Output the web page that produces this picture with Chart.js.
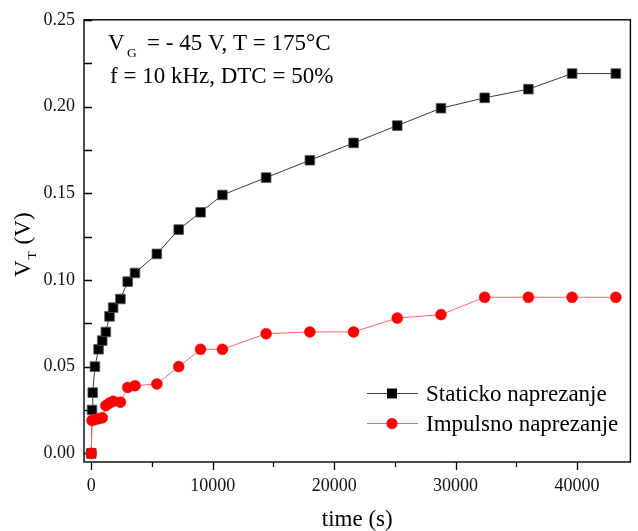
<!DOCTYPE html>
<html><head><meta charset="utf-8">
<script src="https://cdn.jsdelivr.net/npm/chart.js@4"></script>
<style>html,body{margin:0;padding:0;background:#fff;}canvas{display:block;}</style>
</head><body>
<canvas id="c" width="638" height="531"></canvas>
<script>
// ---- data ----
const timeStatic = [0, 60, 120, 300, 600, 900, 1200, 1500, 1800, 2400, 3000, 3600, 5400, 7200, 9000, 10800, 14400, 18000, 21600, 25200, 28800, 32400, 36000, 39600, 43200];
const vtStatic   = [0, 0.025, 0.035, 0.050, 0.060, 0.065, 0.070, 0.079, 0.084, 0.089, 0.099, 0.104, 0.115, 0.129, 0.139, 0.149, 0.159, 0.169, 0.179, 0.189, 0.199, 0.205, 0.210, 0.219, 0.219];
const timeImpulse = [0, 60, 300, 600, 900, 1200, 1500, 1800, 2400, 3000, 3600, 5400, 7200, 9000, 10800, 14400, 18000, 21600, 25200, 28800, 32400, 36000, 39600, 43200];
const vtImpulse   = [0, 0.019, 0.0195, 0.020, 0.0205, 0.0275, 0.029, 0.030, 0.0295, 0.038, 0.039, 0.040, 0.050, 0.060, 0.060, 0.069, 0.070, 0.070, 0.078, 0.080, 0.090, 0.090, 0.090, 0.090];
const seriesNames = ['Staticko naprezanje', 'Impulsno naprezanje'];
const xTickValues = [0, 10000, 20000, 30000, 40000];
const xMinorValues = [5000, 15000, 25000, 35000];
const yTickValues = [0, 0.05, 0.10, 0.15, 0.20, 0.25];
const yMinorValues = [0.025, 0.075, 0.125, 0.175, 0.225];
const annotationLine1 = ['V', 'G', '= - 45 V, T = 175°C'];
const annotationLine2 = 'f = 10 kHz, DTC = 50%';
const xTitle = 'time (s)';
const yTitle = ['V', 'T', ' (V)'];

const SERIF = '"Liberation Serif", "Times New Roman", serif';

function pts(xs, ys) { return xs.map((x, i) => ({x: x, y: ys[i]})); }

const framePlugin = {
  id: 'frame',
  beforeDatasetsDraw(chart) {
    const {ctx, chartArea: a, scales: {x, y}} = chart;
    ctx.save();
    ctx.strokeStyle = '#000';
    ctx.lineWidth = 1.4;
    ctx.strokeRect(a.left, a.top, a.right - a.left, a.bottom - a.top);
    ctx.lineWidth = 1.3;
    ctx.beginPath();
    xTickValues.forEach(v => { const p = Math.round(x.getPixelForValue(v)) + 0.5; ctx.moveTo(p, a.bottom); ctx.lineTo(p, a.bottom + 8); });
    xMinorValues.forEach(v => { const p = Math.round(x.getPixelForValue(v)) + 0.5; ctx.moveTo(p, a.bottom); ctx.lineTo(p, a.bottom + 5); });
    yTickValues.concat(yMinorValues).forEach(v => { const p = Math.round(y.getPixelForValue(v)) + 0.5; ctx.moveTo(a.left, p); ctx.lineTo(a.left + 8, p); });
    ctx.stroke();
    ctx.restore();
  }
};

const textPlugin = {
  id: 'texts',
  afterDraw(chart) {
    const {ctx, chartArea: a} = chart;
    ctx.save();
    ctx.fillStyle = '#000';
    ctx.textBaseline = 'alphabetic';
    ctx.textAlign = 'left';
    // annotation
    ctx.font = '23px ' + SERIF;
    ctx.fillText(annotationLine1[0], 108, 50);
    ctx.font = '13.5px ' + SERIF;
    ctx.fillText(annotationLine1[1], 127, 57);
    ctx.font = '23px ' + SERIF;
    ctx.fillText(annotationLine1[2], 147, 50);
    ctx.fillText(annotationLine2, 110, 83);
    // x title
    ctx.textAlign = 'center';
    ctx.fillText(xTitle, (a.left + a.right) / 2, 526);
    // y title (rotated, with subscript)
    ctx.textAlign = 'left';
    ctx.save();
    ctx.translate(30, 277);
    ctx.rotate(-Math.PI / 2);
    ctx.font = '23px ' + SERIF;
    ctx.fillText(yTitle[0], 0, 0);
    const w0 = ctx.measureText(yTitle[0]).width;
    ctx.font = '13.5px ' + SERIF;
    ctx.fillText(yTitle[1], w0 + 1, 6);
    const w1 = ctx.measureText(yTitle[1]).width;
    ctx.font = '23px ' + SERIF;
    ctx.fillText(yTitle[2], w0 + w1 + 2, 0);
    ctx.restore();
    // legend
    const ds = chart.data.datasets;
    const rows = [393, 423];
    ds.forEach((d, i) => {
      const yy = rows[i];
      ctx.strokeStyle = d.borderColor;
      ctx.lineWidth = 1;
      ctx.beginPath();
      ctx.moveTo(367, yy + 0.5); ctx.lineTo(418, yy + 0.5);
      ctx.stroke();
      ctx.fillStyle = d.backgroundColor;
      if (d.pointStyle === 'rect') {
        ctx.fillRect(387, yy - 4.5, 10, 10);
      } else {
        ctx.beginPath(); ctx.arc(392, yy + 0.5, 5.5, 0, Math.PI * 2); ctx.fill();
      }
      ctx.fillStyle = '#000';
      ctx.font = '23px ' + SERIF;
      ctx.fillText(d.label, 426, yy + 8);
    });
    ctx.restore();
  }
};

new Chart(document.getElementById('c').getContext('2d'), {
  type: 'scatter',
  data: {
    datasets: [
      {
        label: seriesNames[0], data: pts(timeStatic, vtStatic), showLine: true,
        borderColor: '#3a3a3a', borderWidth: 1, backgroundColor: '#000000',
        pointStyle: 'rect', pointRadius: 6.8, pointBorderColor: '#555', pointBorderWidth: 0.8,
        order: 2
      },
      {
        label: seriesNames[1], data: pts(timeImpulse, vtImpulse), showLine: true,
        borderColor: '#ff6464', borderWidth: 1, backgroundColor: '#ff0000',
        pointStyle: 'circle', pointRadius: 5.5, pointBorderColor: '#ff0000', pointBorderWidth: 0.5,
        order: 1
      }
    ]
  },
  options: {
    responsive: false, animation: false, devicePixelRatio: 1,
    layout: {padding: {top: 17, right: 1, left: 0, bottom: 0}},
    plugins: {legend: {display: false}, tooltip: {enabled: false}},
    scales: {
      x: {
        type: 'linear', min: -600, max: 44400,
        afterBuildTicks: s => { s.ticks = xTickValues.map(v => ({value: v})); },
        afterFit: s => { s.height = 69; },
        grid: {display: false, drawTicks: false}, border: {display: false},
        ticks: {font: {family: SERIF, size: 18}, color: '#111', padding: 13, maxRotation: 0, autoSkip: false, callback: v => String(v)}
      },
      y: {
        type: 'linear', min: -0.005, max: 0.25,
        afterBuildTicks: s => { s.ticks = yTickValues.map(v => ({value: v})); },
        afterFit: s => { s.width = 84; },
        grid: {display: false, drawTicks: false}, border: {display: false},
        ticks: {font: {family: SERIF, size: 18}, color: '#111', padding: 9, autoSkip: false, callback: v => Number(v).toFixed(2)}
      }
    }
  },
  plugins: [framePlugin, textPlugin]
});
</script>
</body></html>
